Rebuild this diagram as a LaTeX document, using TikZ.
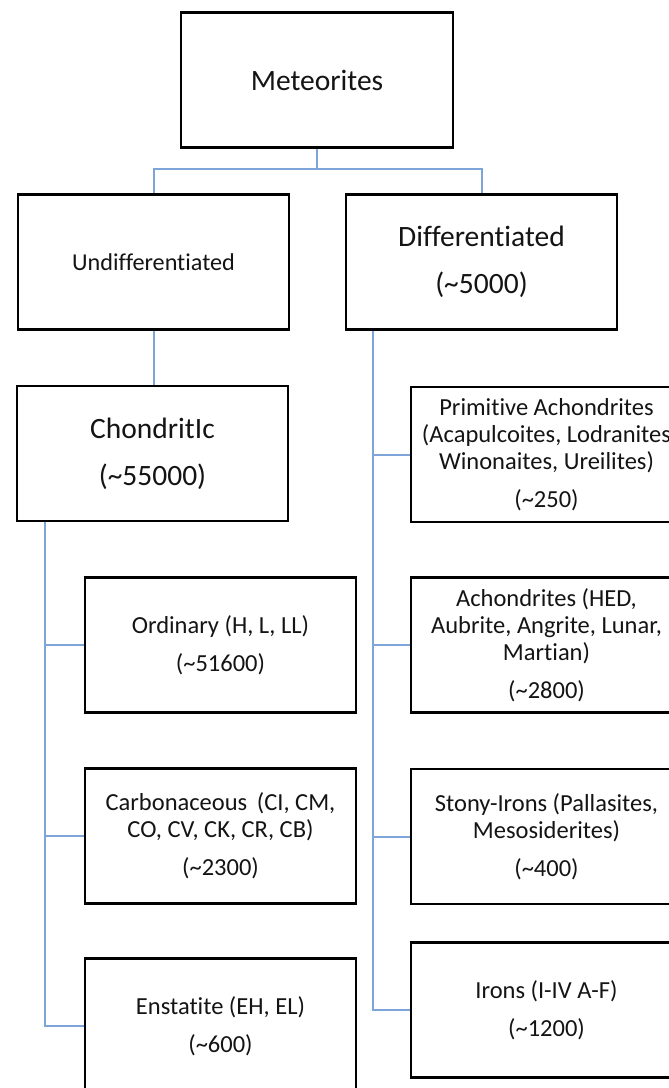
\documentclass[tikz,border=0pt]{standalone}
\usepackage{fontspec}
\setmainfont{Carlito}[Ligatures=CommonOff]
\definecolor{linkblue}{RGB}{125,165,218}
\definecolor{ink}{RGB}{20,20,20}
\tikzset{
  box/.style={draw=black,line width=2.8pt,rectangle,minimum width=271,minimum height=135,
    inner sep=2pt,align=center,text=ink},
  bigtxt/.style={font=\fontsize{29.5}{35}\selectfont},
  smalltxt/.style={font=\fontsize{24.5}{27}\selectfont},
  link/.style={draw=linkblue,line width=2pt}
}

\begin{document}
\begin{tikzpicture}[x=1pt,y=-1pt]
\useasboundingbox[fill=white] (0,0) rectangle (669,1088);
%top levels
\node[box,bigtxt,minimum width=272] (met) at (317,80) {Meteorites};
\node[box,font=\fontsize{24.2}{27}\selectfont] (undiff) at (153.5,262) {Undifferentiated};
\node[box,bigtxt] (diff) at (481.5,262) {Differentiated\\[12pt](\textasciitilde5000)};
\node[box,bigtxt] (chond) at (152.5,453.5) {ChondritIc\\[12pt](\textasciitilde55000)};
%chondrites
\node[box,smalltxt] (ord) at (220.5,645) {Ordinary (H, L, LL)\\[11pt](\textasciitilde51600)};
\node[box,smalltxt] (carb) at (220.5,836) {Carbonaceous\, (CI, CM,\\CO, CV, CK, CR, CB)\\[11pt](\textasciitilde2300)};
\node[box,smalltxt] (enst) at (220.5,1026) {Enstatite (EH, EL)\\[11pt](\textasciitilde600)};
%differentiated
\node[box,smalltxt] (prim) at (546.5,454.5) {Primitive Achondrites\\(Acapulcoites, Lodranites\\Winonaites, Ureilites)\\[11pt](\textasciitilde250)};
\node[box,smalltxt] (achon) at (546.5,645) {Achondrites (HED,\\Aubrite, Angrite, Lunar,\\Martian)\\[11pt](\textasciitilde2800)};
\node[box,smalltxt] (stony) at (546.5,836.5) {Stony-Irons (Pallasites,\\Mesosiderites)\\[11pt](\textasciitilde400)};
\node[box,smalltxt] (irons) at (546.5,1010) {Irons (I-IV A-F)\\[11pt](\textasciitilde1200)};

\draw[link] (met.south) -- ++(0,20) -| (undiff.north);
\draw[link] (met.south) -- ++(0,20) -| (diff.north);
\draw[link] (undiff.south) -- (undiff.south |- chond.north);
\foreach \n in {ord,carb,enst}
  \draw[link] ([xshift=29]chond.south west) |- (\n.west);
\foreach \n in {prim,achon,stony,irons}
  \draw[link] ([xshift=28]diff.south west) |- (\n.west);
\end{tikzpicture}
\end{document}
